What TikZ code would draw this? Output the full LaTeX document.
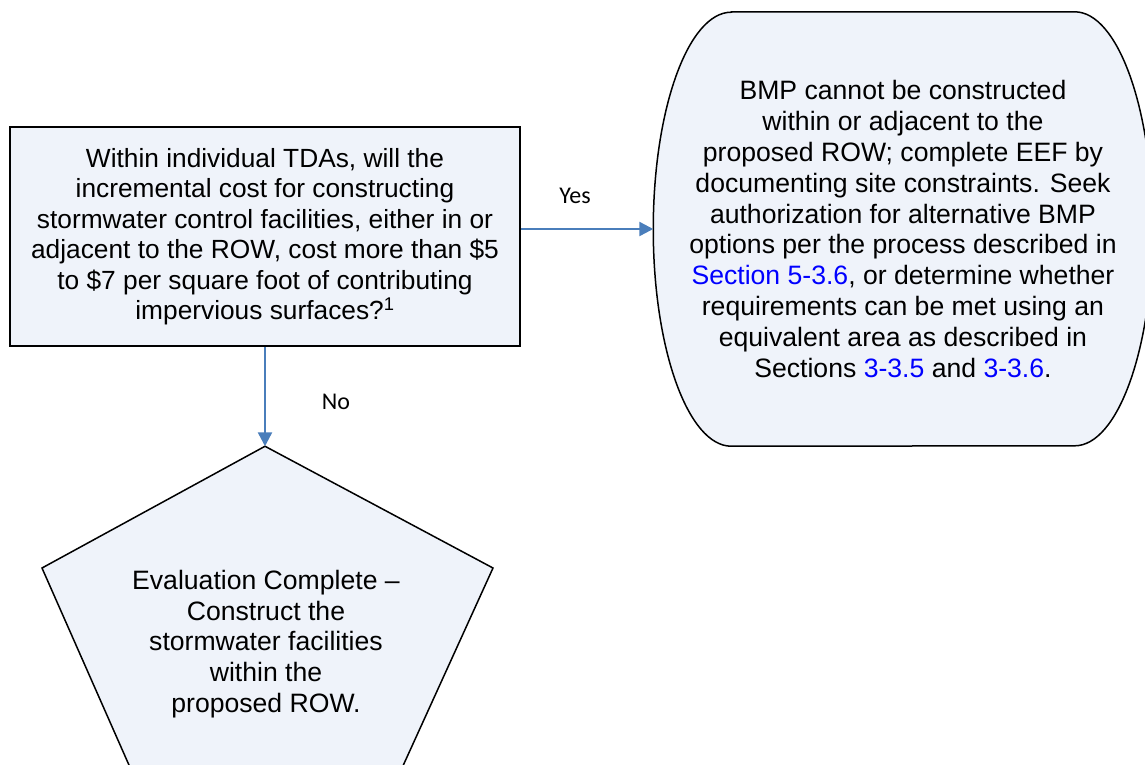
\documentclass[tikz,border=0pt]{standalone}
\usepackage{fontspec}
\setmainfont{Liberation Sans}
\newfontfamily\labelfont{Carlito}
\usetikzlibrary{positioning,arrows.meta,backgrounds}
\definecolor{boxfill}{RGB}{239,243,250}
\definecolor{flowblue}{RGB}{74,126,187}
\definecolor{linkblue}{RGB}{0,0,255}
\newcommand{\link}[1]{\textcolor{linkblue}{#1}}

\begin{document}
\begin{tikzpicture}[x=1pt,y=-1pt,
        outline/.style={draw=black,fill=boxfill,line width=1.5pt},
        question/.style={outline,line width=2.5pt,rectangle,align=center,inner sep=0pt,
            minimum width=510pt,minimum height=219pt,font=\fontsize{26.3}{30.5}\selectfont},
        textblock/.style={align=center,inner sep=0pt,font=\fontsize{26.6}{30.8}\selectfont},
        answer/.style={font=\labelfont\fontsize{24}{28}\selectfont},
        flow/.style={draw=flowblue,line width=2.5pt,-{Triangle[length=14pt,width=14pt]}}]
   \useasboundingbox (0,0) rectangle (1145,764);

   \node[question] (A) at (265,236.5) {Within individual TDAs, will the\\
      incremental cost for constructing\\
      stormwater control facilities, either in or\\
      adjacent to the ROW, cost more than \$5\\
      to \$7 per square foot of contributing\\
      impervious surfaces?\textsuperscript{1}};

   \node[textblock,minimum width=499pt,minimum height=434pt] (B) [right=132pt of A,yshift=7.5pt]
      {BMP cannot be constructed\\
      within or adjacent to the\\
      proposed ROW; complete EEF by\\
      documenting site constraints. Seek\\
      authorization for alternative BMP\\
      options per the process described in\\
      \link{Section 5-3.6}, or determine whether\\
      requirements can be met using an\\
      equivalent area as described in\\
      Sections \link{3-3.5} and \link{3-3.6}.};

   \coordinate[below=99pt of A.south] (P);
   \draw[outline] (P) -- (493,568) -- (392,790) -- (140,790) -- (42,568) -- cycle;
   \node[textblock] (C) at (266,644) {Evaluation Complete --\\
      Construct the\\
      stormwater facilities\\
      within the\\
      proposed ROW.};

   % rounded side outline of the answer box
   \begin{scope}[on background layer]
      \clip (0,0) rectangle (1145,764);
      \draw[outline] ([xshift=78pt]B.north west) -- ([xshift=-78pt]B.north east)
         arc[start angle=90,end angle=-90,x radius=78pt,y radius=217pt]
         -- ([xshift=78pt]B.south west)
         arc[start angle=270,end angle=90,x radius=78pt,y radius=217pt] -- cycle;
   \end{scope}

   \draw[flow] (A.east |- B.west) -- (B.west);
   \draw[flow] (A.south) -- (P);
   \node[answer] (yes) at (575,196) {Yes};
   \node[answer] (no) at (336,402) {No};
\end{tikzpicture}
\end{document}
